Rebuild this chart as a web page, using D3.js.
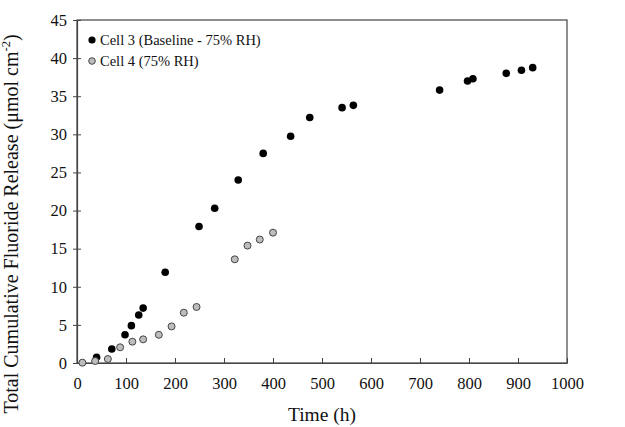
<!DOCTYPE html>
<html><head><meta charset="utf-8">
<script src="https://cdn.jsdelivr.net/npm/d3@7/dist/d3.min.js"></script>
<style>body{margin:0;background:#fff}svg{display:block}text{font-family:"Liberation Serif","Times New Roman",serif;fill:#111}</style>
</head><body><svg id="c" width="625" height="427"></svg>
<script>
const cell3Time = [40, 71, 98, 111, 126, 135, 180, 249, 281, 329, 380, 436, 475, 541, 564, 740, 797, 808, 876, 907, 930];
const cell3Val  = [0.75, 1.84, 3.7, 4.9, 6.3, 7.2, 11.9, 17.9, 20.3, 24.0, 27.5, 29.75, 32.2, 33.5, 33.8, 35.8, 37.0, 37.3, 38.0, 38.4, 38.75];
const cell4Time = [11, 37, 63, 88, 113, 135, 167, 193, 218, 244, 322, 348, 373, 400];
const cell4Val  = [0.04, 0.26, 0.52, 2.06, 2.8, 3.1, 3.7, 4.8, 6.6, 7.35, 13.6, 15.4, 16.2, 17.1];
const xTicks = [0,100,200,300,400,500,600,700,800,900,1000];
const yTicks = [0,5,10,15,20,25,30,35,40,45];
const seriesNames = ["Cell 3 (Baseline - 75% RH)", "Cell 4 (75% RH)"];

const L=77,R=567,T=20,B=363;
const svg=d3.select("#c");
const x=d3.scaleLinear().domain([0,1000]).range([L,R]);
const y=d3.scaleLinear().domain([0,45]).range([B,T]);

svg.append("rect").attr("x",L).attr("y",T).attr("width",R-L).attr("height",B-T)
  .attr("fill","none").attr("stroke","#444").attr("stroke-width",1.2);

const xa=svg.append("g").attr("transform",`translate(0,${B})`)
  .call(d3.axisBottom(x).tickValues(xTicks).tickFormat(d3.format("d")).tickSizeInner(-5).tickSizeOuter(0).tickPadding(14));
xa.select(".domain").attr("stroke","#444").attr("stroke-width",1.2);
xa.selectAll(".tick line").attr("stroke","#444");
xa.selectAll("text").attr("font-size",16.5).attr("fill","#111");

const ya=svg.append("g").attr("transform",`translate(${L},0)`)
  .call(d3.axisLeft(y).tickValues(yTicks).tickSize(4).tickSizeOuter(0).tickPadding(6));
ya.select(".domain").attr("stroke","#444").attr("stroke-width",1.2);
ya.selectAll(".tick line").attr("x1",4).attr("x2",-4).attr("stroke","#444");
ya.selectAll("text").attr("font-size",16.5).attr("fill","#111");
xa.attr("font-family",null); ya.attr("font-family",null);

svg.append("text").attr("x",(L+R)/2).attr("y",421).attr("text-anchor","middle")
  .attr("font-size",19.5).text("Time (h)");
const yt=svg.append("text").attr("transform","translate(18,224) rotate(-90)")
  .attr("text-anchor","middle").attr("font-size",20);
yt.append("tspan").text("Total Cumulative Fluoride Release (\u03bcmol cm");
yt.append("tspan").attr("font-size",12.5).attr("dy",-8).text("-2");
yt.append("tspan").attr("dy",8).text(")");

const d3pts=cell3Time.map((t,i)=>({t,v:cell3Val[i]}));
const d4pts=cell4Time.map((t,i)=>({t,v:cell4Val[i]}));
svg.append("g").selectAll("circle").data(d3pts).join("circle")
  .attr("cx",d=>x(d.t)).attr("cy",d=>y(d.v)).attr("r",3.8).attr("fill","#000");
svg.append("g").selectAll("circle").data(d4pts).join("circle")
  .attr("cx",d=>x(d.t)).attr("cy",d=>y(d.v)).attr("r",3.5).attr("fill","#bdbdbd")
  .attr("stroke","#444").attr("stroke-width",1);

const lg=svg.append("g");
lg.append("circle").attr("cx",92).attr("cy",40).attr("r",3.6).attr("fill","#000");
lg.append("circle").attr("cx",92).attr("cy",61).attr("r",3.3).attr("fill","#bdbdbd").attr("stroke","#444");
lg.append("text").attr("x",100).attr("y",45).attr("font-size",14.5).text(seriesNames[0]);
lg.append("text").attr("x",100).attr("y",66).attr("font-size",14.5).text(seriesNames[1]);

svg.selectAll("text").style("font-family","'Liberation Serif', 'Times New Roman', serif");
</script></body></html>
